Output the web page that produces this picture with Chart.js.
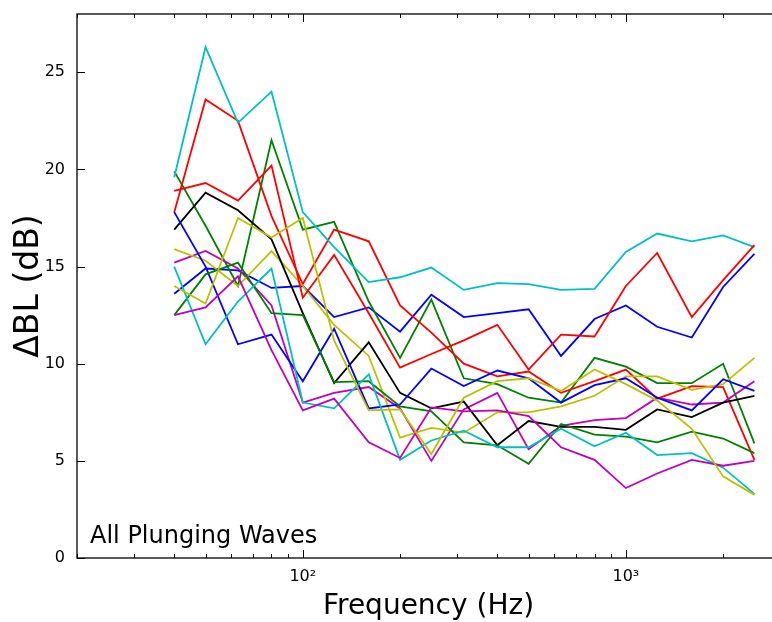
<!DOCTYPE html>
<html><head><meta charset="utf-8">
<script src="https://cdn.jsdelivr.net/npm/chart.js@4/dist/chart.umd.min.js"></script>
<style>html,body{margin:0;padding:0;overflow:hidden;background:#fff}</style>
</head><body>
<canvas id="c" width="790" height="622" style="display:block"></canvas>
<script>
const freqs = [40,50,63,80,100,125,160,200,250,315,400,500,630,800,1000,1250,1600,2000,2500];

const blue1    = [13.6,14.9,14.8,13.9,14.0,12.4,12.9,11.65,13.55,12.4,12.6,12.8,10.4,12.3,13.0,11.9,11.35,13.95,15.65];
const green1   = [19.9,17.1,14.0,21.5,16.9,17.3,13.2,10.3,13.3,9.25,8.95,8.25,8.0,10.3,9.85,9.0,9.0,10.0,5.9];
const red1     = [17.8,23.6,22.5,17.6,14.1,16.9,16.3,13.0,11.6,10.0,9.35,9.6,8.5,9.1,9.7,8.2,8.85,8.8,5.05];
const cyan1    = [19.6,26.3,22.4,24.0,17.8,16.0,14.2,14.45,14.95,13.8,14.15,14.1,13.8,13.85,15.75,16.7,16.3,16.6,16.0];
const magenta1 = [15.2,15.8,14.9,13.0,8.0,8.5,8.8,7.7,5.0,7.65,8.5,5.6,6.8,7.1,7.2,8.25,7.9,8.0,9.1];
const yellow1  = [15.9,15.3,14.0,15.8,14.0,12.0,10.4,6.2,6.7,6.45,7.5,7.5,7.8,8.35,9.35,9.35,8.65,8.95,10.3];
const black1   = [16.9,18.8,17.9,16.4,12.6,9.0,11.1,8.5,7.7,8.05,5.8,7.05,6.75,6.75,6.6,7.65,7.25,8.0,8.35];
const blue2    = [17.8,15.0,11.0,11.5,9.1,11.8,7.7,7.9,9.75,8.85,9.65,9.25,8.0,8.9,9.25,8.25,7.6,9.2,8.6];
const green2   = [12.5,14.6,15.2,12.6,12.5,9.05,9.1,7.8,7.55,5.95,5.8,4.85,6.9,6.35,6.25,5.95,6.5,6.15,5.4];
const red2     = [18.9,19.3,18.4,20.2,13.4,15.6,12.6,9.8,10.5,11.2,12.0,9.7,11.5,11.4,14.0,15.7,12.4,14.3,16.1];
const cyan2    = [15.0,11.0,13.2,14.9,8.0,7.7,9.45,5.05,6.05,6.55,5.7,5.7,6.65,5.75,6.45,5.3,5.4,4.65,3.3];
const magenta2 = [12.5,12.9,14.5,10.7,7.6,8.2,5.95,5.15,7.75,7.55,7.6,7.3,5.7,5.05,3.6,4.35,5.05,4.75,5.0];
const yellow2  = [14.0,13.1,17.5,16.5,17.5,11.2,7.6,7.65,5.35,8.25,9.1,9.25,8.6,9.7,8.95,8.1,6.65,4.2,3.25];

const seriesList = [blue1, green1, red1, cyan1, magenta1, yellow1, black1, blue2, green2, red2, cyan2, magenta2, yellow2];
const colorCycle = ['#0000ff','#008000','#ff0000','#00bfbf','#bf00bf','#bfbf00','#000000'];

const xMajorTicks = [100, 1000];
const xMajorLabels = ['10²', '10³'];
const xMinorTicks = [20,30,40,50,60,70,80,90,200,300,400,500,600,700,800,900,2000,3000];
const yTicks = [0,5,10,15,20,25];
const annotationText = 'All Plunging Waves';
const xTitle = 'Frequency (Hz)';
const yTitle = 'ΔBL (dB)';

const datasets = seriesList.map((s, i) => ({
  data: s.map((v, j) => ({x: freqs[j], y: v})),
  borderColor: colorCycle[i % colorCycle.length],
  borderWidth: 1.8,
  pointRadius: 0,
  fill: false,
  tension: 0,
  order: -i
}));

const framePlugin = {
  id: 'frame',
  afterDraw(chart) {
    const {ctx, chartArea: a, scales: {x, y}} = chart;
    ctx.save();
    ctx.strokeStyle = '#000';
    ctx.lineWidth = 1.3;
    ctx.strokeRect(a.left, a.top, a.right - a.left, a.bottom - a.top);
    ctx.lineWidth = 1;
    ctx.beginPath();
    const tick = (px, len, horiz) => {
      if (horiz) {
        ctx.moveTo(px, a.bottom); ctx.lineTo(px, a.bottom - len);
        ctx.moveTo(px, a.top); ctx.lineTo(px, a.top + len);
      } else {
        ctx.moveTo(a.left, px); ctx.lineTo(a.left + len, px);
        ctx.moveTo(a.right, px); ctx.lineTo(a.right - len, px);
      }
    };
    xMajorTicks.forEach(v => tick(Math.round(x.getPixelForValue(v)) + 0.5, 8, true));
    xMinorTicks.forEach(v => tick(Math.round(x.getPixelForValue(v)) + 0.5, 4, true));
    yTicks.forEach(v => tick(Math.round(y.getPixelForValue(v)) + 0.5, 8, false));
    ctx.stroke();
    ctx.fillStyle = '#000';
    ctx.font = '24px "DejaVu Sans"';
    ctx.textBaseline = 'alphabetic';
    ctx.textAlign = 'left';
    ctx.fillText(annotationText, a.left + 13, a.bottom - 15);
    ctx.restore();
  }
};

new Chart(document.getElementById('c'), {
  type: 'line',
  data: {datasets},
  plugins: [framePlugin],
  options: {
    responsive: false,
    animation: false,
    devicePixelRatio: 1,
    layout: {padding: {top: 14, right: 10, left: 0, bottom: 0}},
    plugins: {legend: {display: false}, tooltip: {enabled: false}},
    scales: {
      x: {
        type: 'logarithmic',
        min: 20, max: 3000,
        grid: {display: false, drawTicks: false},
        border: {display: false},
        afterBuildTicks: s => { s.ticks = xMajorTicks.map(v => ({value: v})); },
        afterFit: s => { s.height = 64; s.paddingLeft = 0; s.paddingRight = 0; },
        ticks: {
          autoSkip: false, maxRotation: 0, padding: 9, color: '#000',
          font: {family: 'DejaVu Sans', size: 16},
          callback: v => xMajorLabels[xMajorTicks.indexOf(v)] ?? ''
        },
        title: {display: true, text: xTitle, color: '#000',
          font: {family: 'DejaVu Sans', size: 28, lineHeight: 1.0}, padding: {top: 0, bottom: 1}}
      },
      y: {
        type: 'linear',
        min: 0, max: 28,
        grid: {display: false, drawTicks: false},
        border: {display: false},
        afterBuildTicks: s => { s.ticks = yTicks.map(v => ({value: v})); },
        afterFit: s => { s.width = 77; s.paddingTop = 0; s.paddingBottom = 0; },
        ticks: {padding: 12, color: '#000', font: {family: 'DejaVu Sans', size: 16}},
        title: {display: true, text: yTitle, color: '#000',
          font: {family: 'DejaVu Sans', size: 33, lineHeight: 1.0}, padding: {top: 13, bottom: 0}}
      }
    }
  }
});
</script>
</body></html>
